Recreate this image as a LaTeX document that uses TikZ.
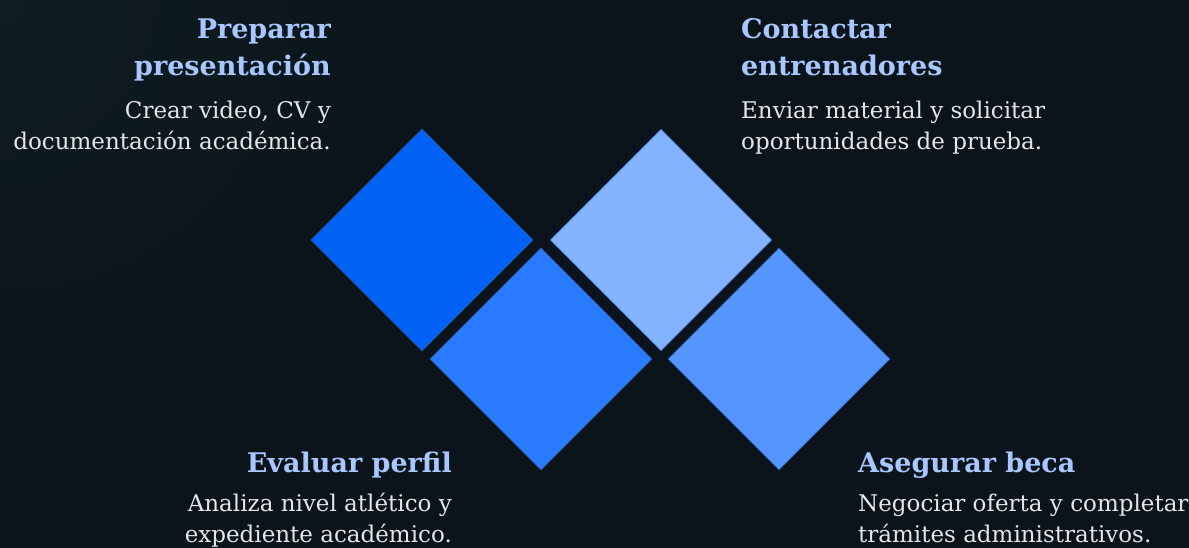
\documentclass[tikz,border=0pt]{standalone}
\usepackage{fontspec}
\setmainfont{DejaVu Serif}
\usetikzlibrary{shapes.geometric}
\definecolor{bgcol}{HTML}{0B141B}
\definecolor{glowcol}{HTML}{0F1C23}
\definecolor{tileA}{HTML}{0061F6}
\definecolor{tileB}{HTML}{2B7BFF}
\definecolor{tileC}{HTML}{85B4FF}
\definecolor{tileD}{HTML}{5596FF}
\definecolor{rimcol}{HTML}{2458B0}
\definecolor{headcol}{HTML}{A9C7FF}
\definecolor{textcol}{HTML}{E6E6E6}
\begin{document}
\begin{tikzpicture}[x=1pt,y=-1pt,
    tile/.style={diamond,draw=rimcol,line width=0.8pt,inner sep=0pt,
      minimum width=222pt,minimum height=222pt},
    head/.style={text=headcol,inner sep=0pt,
      font=\bfseries\fontsize{27}{37}\selectfont},
    body/.style={text=textcol,inner sep=0pt,
      font=\fontsize{23}{31}\selectfont}]
  \useasboundingbox (0,0) rectangle (1189,548);
  \fill[bgcol] (0,0) rectangle (1189,548);
  \shade[inner color=glowcol,outer color=bgcol] (0,0) circle (420);
  \draw
    (422,240) node[tile,fill=tileA] (prep){}
    (541,359) node[tile,fill=tileB] (eval){}
    (661,240) node[tile,fill=tileC] (cont){}
    (779,359) node[tile,fill=tileD] (aseg){};
  \node[head,align=right,anchor=base east] (prephead) at (331,76)
    {Preparar\\presentación};
  \node[body,align=right,anchor=base east] (prepbody) at (331,150)
    {Crear video, CV y\\documentación académica.};
  \node[head,align=left,anchor=base west] (conthead) at (741,76)
    {Contactar\\entrenadores};
  \node[body,align=left,anchor=base west] (contbody) at (741,150)
    {Enviar material y solicitar\\oportunidades de prueba.};
  \node[head,align=right,anchor=base east] (evalhead) at (452,472)
    {Evaluar perfil};
  \node[body,align=right,anchor=base east] (evalbody) at (452,542)
    {Analiza nivel atlético y\\expediente académico.};
  \node[head,align=left,anchor=base west] (aseghead) at (858,472)
    {Asegurar beca};
  \node[body,align=left,anchor=base west] (asegbody) at (858,542)
    {Negociar oferta y completar\\trámites administrativos.};
\end{tikzpicture}
\end{document}
